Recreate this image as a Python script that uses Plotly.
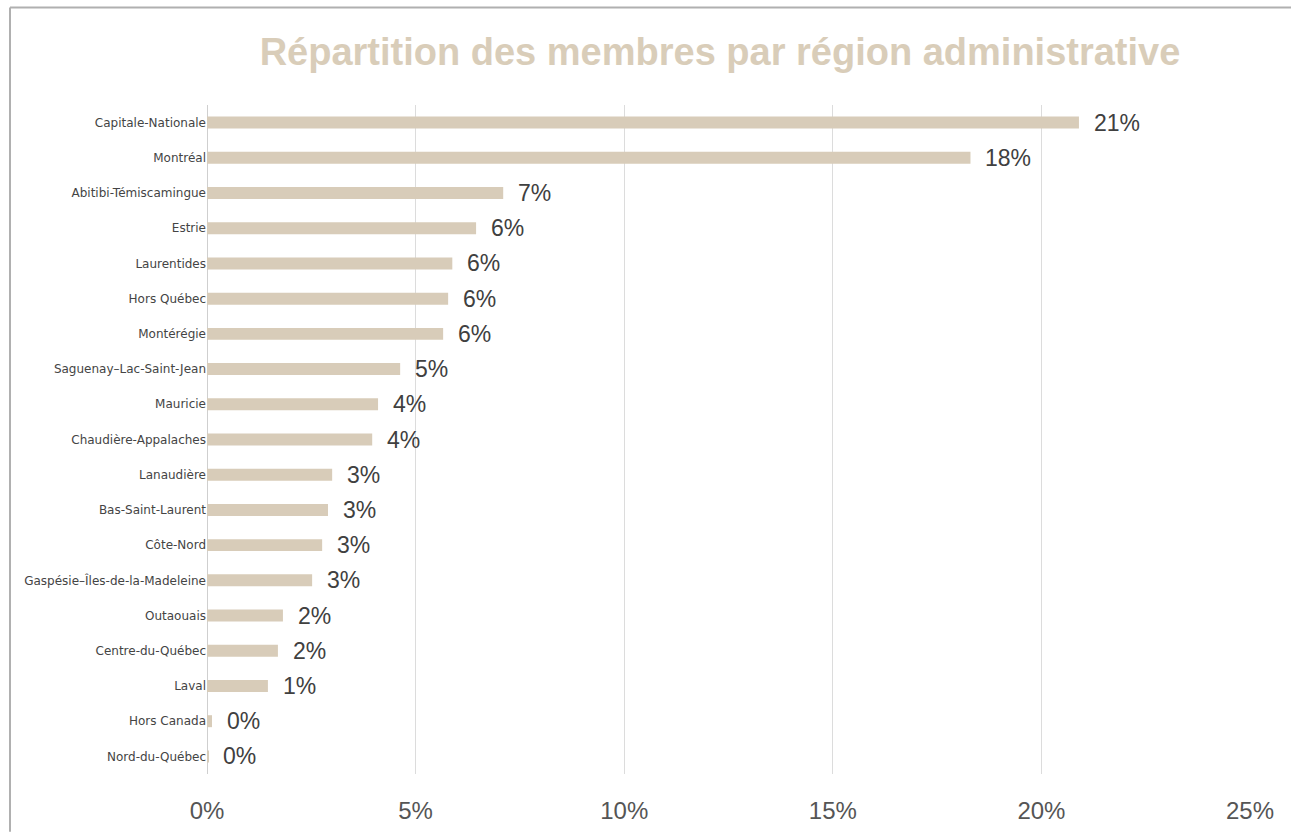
import plotly.graph_objects as go

regions = ["Capitale-Nationale", "Montréal", "Abitibi-Témiscamingue", "Estrie", "Laurentides",
           "Hors Québec", "Montérégie", "Saguenay–Lac-Saint-Jean", "Mauricie", "Chaudière-Appalaches",
           "Lanaudière", "Bas-Saint-Laurent", "Côte-Nord", "Gaspésie–Îles-de-la-Madeleine", "Outaouais",
           "Centre-du-Québec", "Laval", "Hors Canada", "Nord-du-Québec"]
shares = [20.9, 18.3, 7.1, 6.45, 5.88, 5.78, 5.66, 4.63, 4.1, 3.96, 3.0, 2.9, 2.76, 2.52, 1.82, 1.7, 1.46, 0.12, 0.03]
value_labels = ["21%", "18%", "7%", "6%", "6%", "6%", "6%", "5%", "4%", "4%", "3%", "3%", "3%", "3%",
                "2%", "2%", "1%", "0%", "0%"]
x_ticks = [0, 5, 10, 15, 20, 25]
x_ticktext = ["0%", "5%", "10%", "15%", "20%", "25%"]

W, H = 1291, 836
ml, mr, mt, mb = 207, 41, 105, 58

fig = go.Figure()
fig.add_trace(go.Bar(
    x=shares, y=regions, orientation="h",
    marker=dict(color="#d8ccb9", line=dict(width=0)),
    width=0.34, hoverinfo="x+y",
))

for r, v, t in zip(regions, shares, value_labels):
    fig.add_annotation(x=v, y=r, text=t, showarrow=False, xanchor="left", xshift=13,
                       font=dict(family="Liberation Sans, Arial", size=23, color="#404040"))

pw = W - ml - mr
ph = H - mt - mb
# frame border (top and left)
fig.add_shape(type="line", xref="paper", yref="paper",
              x0=(10 - ml) / pw, x1=(W - ml) / pw, y0=1 + (mt - 7) / ph, y1=1 + (mt - 7) / ph,
              line=dict(color="#b0b0b0", width=2))
fig.add_shape(type="line", xref="paper", yref="paper",
              x0=(10 - ml) / pw, x1=(10 - ml) / pw, y0=-(mb) / ph, y1=1 + (mt - 7) / ph,
              line=dict(color="#b0b0b0", width=2))

fig.update_layout(
    width=W, height=H,
    margin=dict(l=ml, r=mr, t=mt, b=mb),
    paper_bgcolor="white", plot_bgcolor="white",
    title=dict(text="<b>Répartition des membres par région administrative</b>",
               x=720 / W, xanchor="center", y=1 - 52 / H, yanchor="middle",
               font=dict(family="Liberation Sans, Arial", size=38, color="#d9cdb9")),
    showlegend=False,
    xaxis=dict(range=[0, 25], tickvals=x_ticks, ticktext=x_ticktext,
               showgrid=True, gridcolor="#dcdcdc", gridwidth=1,
               zeroline=True, zerolinecolor="#cfcfcf", zerolinewidth=1,
               showline=False, ticks="", ticklabelstandoff=20,
               tickfont=dict(family="Liberation Sans, Arial", size=24, color="#555555")),
    yaxis=dict(autorange="reversed", showgrid=False, zeroline=False, showline=False,
               ticks="", ticklabelstandoff=0,
               tickfont=dict(family="DejaVu Sans, Liberation Sans", size=12, color="#444444")),
)

fig.write_html("out.html", config={"displayModeBar": False},
               post_script="document.body.style.margin='0';document.body.style.overflow='hidden';")
